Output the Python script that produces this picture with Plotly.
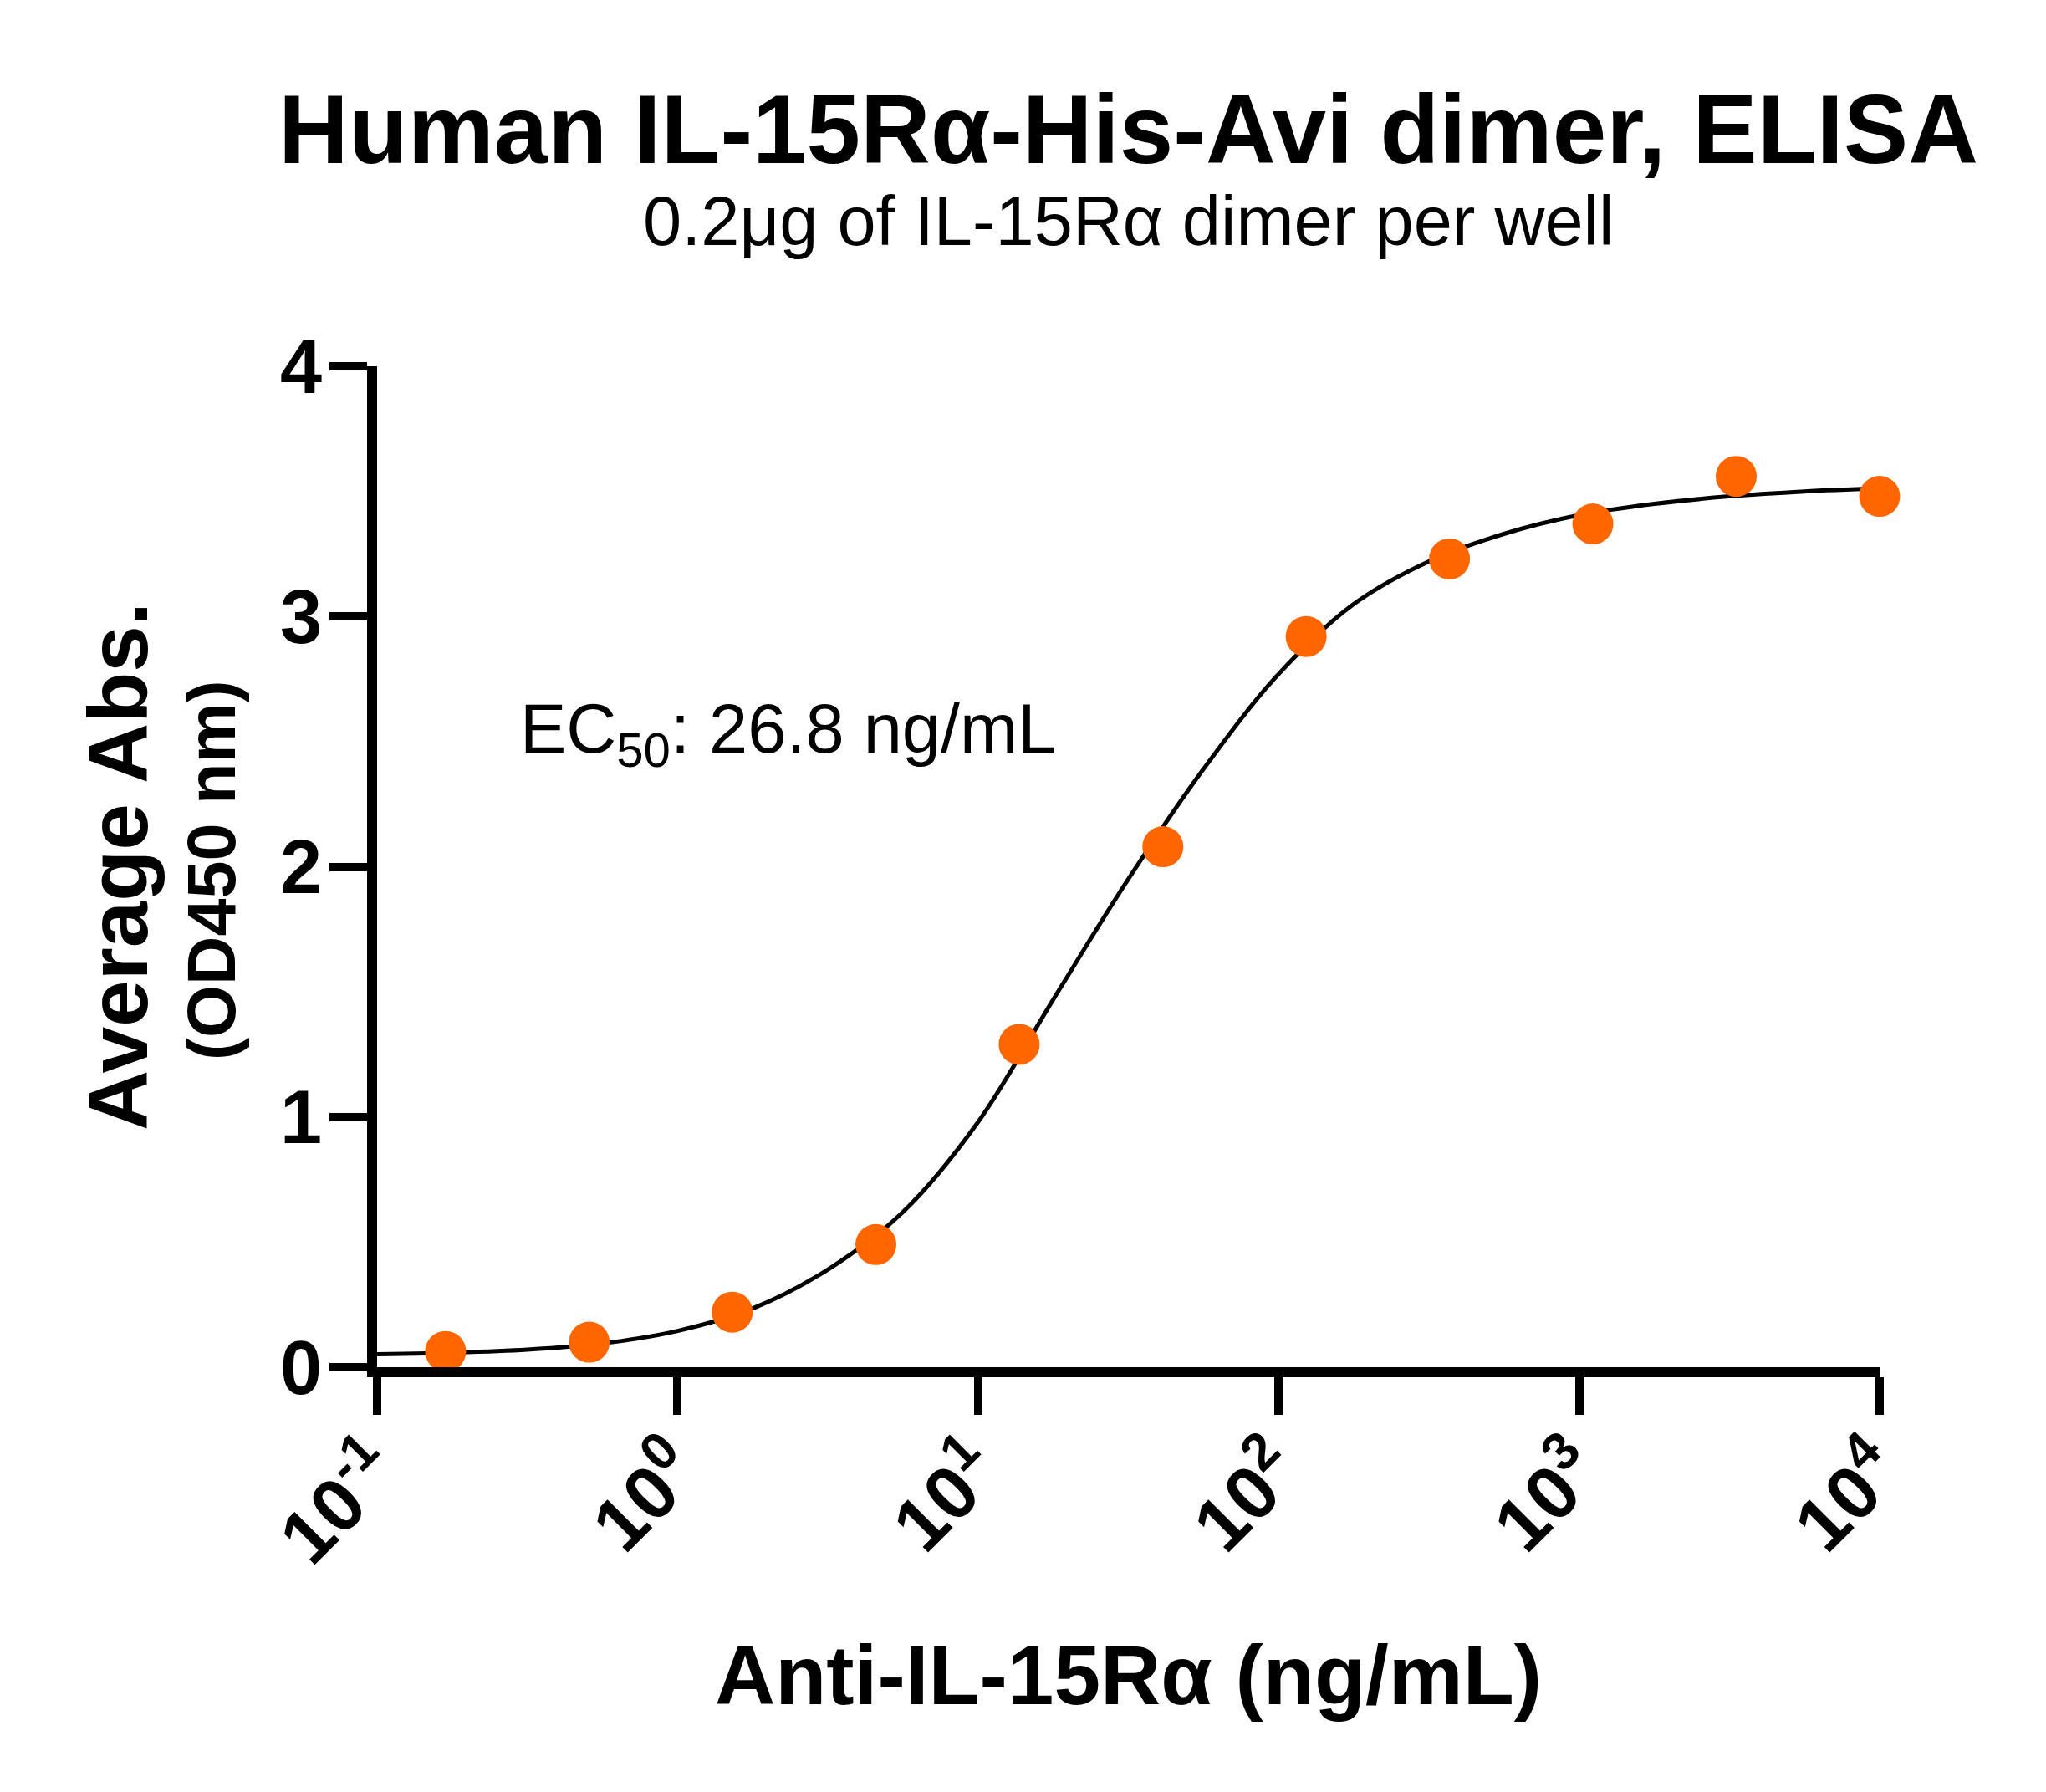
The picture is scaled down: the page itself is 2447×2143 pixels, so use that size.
import plotly.graph_objects as go

# ---- data ----
conc = [0.169, 0.508, 1.52, 4.57, 13.7, 41.2, 123.5, 370.4, 1111.1, 3333.3, 10000]
avg_abs = [0.063, 0.10, 0.22, 0.49, 1.29, 2.08, 2.92, 3.23, 3.37, 3.56, 3.48]

fit_conc = [0.1, 0.178, 0.316, 0.562, 1.0, 1.78, 3.16, 5.62, 10.0, 17.8, 31.6,
            56.2, 100.0, 178.0, 316.0, 562.0, 1000.0, 1780.0, 3160.0, 5620.0, 10000.0]
fit_abs = [0.052, 0.058, 0.070, 0.095, 0.145, 0.235, 0.39, 0.62, 0.98, 1.47, 1.95,
           2.39, 2.77, 3.05, 3.22, 3.33, 3.405, 3.45, 3.48, 3.50, 3.512]

xtick_vals = [0.1, 1, 10, 100, 1000, 10000]
xtick_text = ["10<sup>-1</sup>", "10<sup>0</sup>", "10<sup>1</sup>",
              "10<sup>2</sup>", "10<sup>3</sup>", "10<sup>4</sup>"]
ytick_vals = [0, 1, 2, 3, 4]

title_text = "<b>Human IL-15Rα-His-Avi dimer, ELISA</b>"
subtitle_text = "0.2μg of IL-15Rα dimer per well"
xtitle_text = "<b>Anti-IL-15Rα (ng/mL)</b>"
ytitle1_text = "<b>Average Abs.</b>"
ytitle2_text = "<b>(OD450 nm)</b>"
ec50_text = "EC<sub>50</sub>: 26.8 ng/mL"

# ---- layout geometry (pixels) ----
W, H = 2447, 2143
L, R, T, B = 443, 207, 430, 516
PW = W - L - R
PH = H - T - B

def px(x):
    return (x - L) / PW

def py(y):
    return (H - B - y) / PH

FONT = "Liberation Sans, Arial, sans-serif"

fig = go.Figure()
fig.add_trace(go.Scatter(
    x=fit_conc, y=fit_abs, mode="lines",
    line=dict(color="black", width=5, shape="spline", smoothing=1.0),
    hoverinfo="skip", showlegend=False, cliponaxis=False))
fig.add_trace(go.Scatter(
    x=conc, y=avg_abs, mode="markers",
    marker=dict(color="#FF6600", size=49, line=dict(width=0)),
    showlegend=False, cliponaxis=False))

ann = []
ann.append(dict(text=title_text, x=0.5, y=py(147), xref="paper", yref="paper",
                xanchor="center", yanchor="middle", showarrow=False,
                font=dict(family=FONT, size=116, color="black")))
ann.append(dict(text=subtitle_text, x=0.5, y=py(257), xref="paper", yref="paper",
                xanchor="center", yanchor="middle", showarrow=False,
                font=dict(family=FONT, size=83, color="black")))
ann.append(dict(text=xtitle_text, x=0.5, y=py(1995), xref="paper", yref="paper",
                xanchor="center", yanchor="middle", showarrow=False,
                font=dict(family=FONT, size=100, color="black")))
ann.append(dict(text=ytitle1_text, x=px(133), y=py(1028), xref="paper", yref="paper",
                xanchor="center", yanchor="middle", showarrow=False, textangle=-90,
                font=dict(family=FONT, size=100, color="black")))
ann.append(dict(text=ytitle2_text, x=px(245), y=py(1033), xref="paper", yref="paper",
                xanchor="center", yanchor="middle", showarrow=False, textangle=-90,
                font=dict(family=FONT, size=81, color="black")))
ann.append(dict(text=ec50_text, x=px(612), y=py(869), xref="paper", yref="paper",
                xanchor="left", yanchor="middle", showarrow=False,
                font=dict(family=FONT, size=83, color="black")))

fig.update_layout(
    width=W, height=H,
    margin=dict(l=L, r=R, t=T, b=B, pad=0),
    paper_bgcolor="white", plot_bgcolor="white",
    annotations=ann,
    showlegend=False,
    font=dict(family=FONT, color="black"),
)
fig.update_xaxes(
    type="log", range=[-1, 4], showgrid=False, zeroline=False,
    showline=True, linecolor="black", linewidth=12,
    ticks="outside", ticklen=45, tickwidth=10, tickcolor="black",
    tickmode="array", tickvals=xtick_vals, ticktext=xtick_text, tickangle=-45,
    ticklabelstandoff=-22,
    tickfont=dict(family=FONT, size=90, color="black", weight="bold"),
)
fig.update_yaxes(
    range=[0, 4], showgrid=False, zeroline=False,
    showline=True, linecolor="black", linewidth=12,
    ticks="outside", ticklen=45, tickwidth=10, tickcolor="black",
    tickmode="array", tickvals=ytick_vals, ticklabelstandoff=-9,
    tickfont=dict(family=FONT, size=90, color="black", weight="bold"),
)

fig.write_html("out.html")
